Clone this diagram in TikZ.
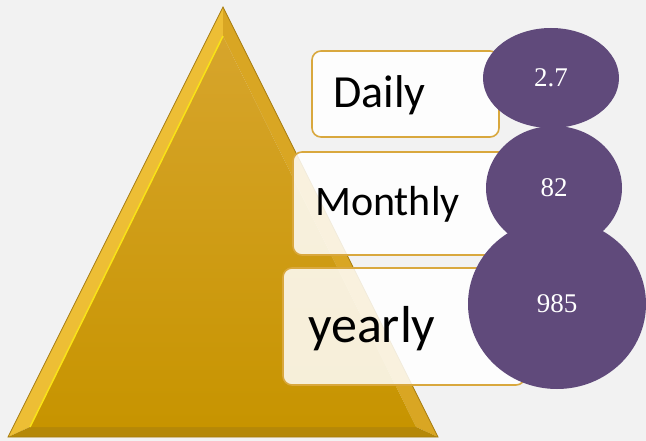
\documentclass[tikz,border=0pt]{standalone}
\usepackage{fontspec}
\setmainfont{Liberation Serif}
\newfontfamily\labelfont{Carlito}
\usetikzlibrary{shapes.geometric,positioning}
\definecolor{bgGrey}{HTML}{F2F2F2}
\definecolor{goldTop}{HTML}{D7A52C}
\definecolor{goldBottom}{HTML}{C79400}
\definecolor{goldLeft}{HTML}{EDBE35}
\definecolor{goldRight}{HTML}{D9A623}
\definecolor{goldBase}{HTML}{B58808}
\definecolor{goldEdge}{HTML}{A67C10}
\definecolor{boxEdge}{HTML}{D9A83E}
\definecolor{plum}{HTML}{604A7B}

\begin{document}
\begin{tikzpicture}[x=1pt,y=-1pt,
  box/.style={draw=boxEdge, line width=1.6pt, rounded corners=9pt, fill=white,
    fill opacity=0.85, draw opacity=1, minimum width=#1},
  word/.style={font=\labelfont, anchor=base west, inner sep=0pt},
  bubble/.style={ellipse, fill=plum, text=white, inner sep=0pt,
    font=\fontsize{27}{27}\selectfont}]
\fill[bgGrey] (0,0) rectangle (646,441);
\useasboundingbox (0,0) rectangle (646,441);
% pyramid with bevel
\coordinate (top) at (223,7);
\coordinate (bl) at (8,437);
\coordinate (br) at (438,437);
\coordinate (itop) at (223,36);
\coordinate (ibl) at (30,427);
\coordinate (ibr) at (416,427);
\fill[goldLeft] (top) -- (bl) -- (ibl) -- (itop) -- cycle;
\fill[goldRight] (top) -- (br) -- (ibr) -- (itop) -- cycle;
\fill[goldBase] (bl) -- (br) -- (ibr) -- (ibl) -- cycle;
\shade[top color=goldTop, bottom color=goldBottom] (itop) -- (ibr) -- (ibl) -- cycle;
\draw[yellow!70!goldLeft, line width=1.5pt] (ibl) -- (itop);
\draw[goldEdge, line width=0.8pt] (top) -- (br) -- (bl) -- cycle;
% boxes
\node[box=187pt, minimum height=86pt] (dailyBox) at (405.5,94) {};
\node[box=219pt, minimum height=103pt] (monthlyBox) at (402.5,203.5) {};
\node[box=242pt, minimum height=117pt] (yearlyBox) at (404,326.5) {};
\node[word, font=\labelfont\fontsize{46}{46}\selectfont] (daily) at (333,108) {Daily};
\node[word, font=\labelfont\fontsize{42}{42}\selectfont] (monthly) at (315,216) {Monthly};
\node[word, font=\labelfont\fontsize{52}{52}\selectfont] (yearly) at (308,342) {yearly};
% values
\node[bubble, minimum width=136pt, minimum height=100pt] (dayValue) at (551,78) {2.7};
\node[bubble, minimum width=136pt, minimum height=124pt] (monthValue) at (554,188) {82};
\node[bubble, minimum width=178pt, minimum height=170pt] (yearValue) at (557,304) {985};
\end{tikzpicture}
\end{document}
